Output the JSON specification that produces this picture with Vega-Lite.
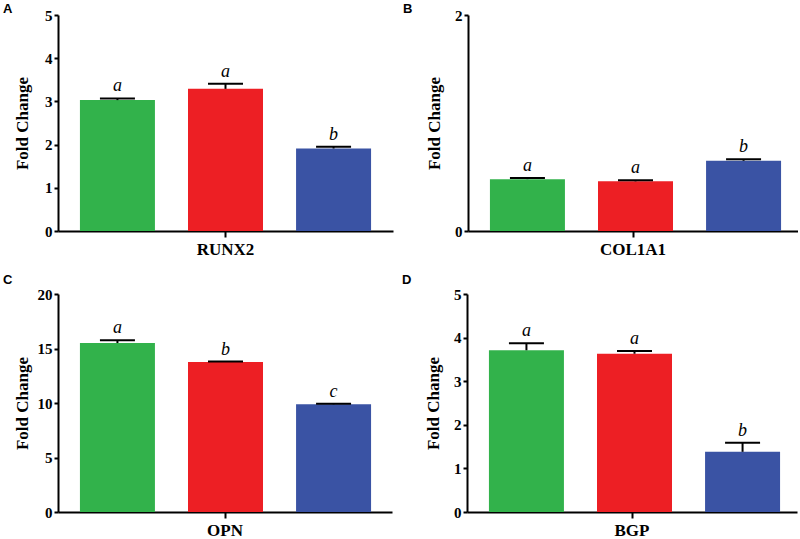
{
  "$schema": "https://vega.github.io/schema/vega-lite/v6.json",
  "padding": {"left": 3, "top": 3, "right": 0, "bottom": 0},
  "background": "white",
  "data": {"values": [
    {"gene": "RUNX2", "group": "G1", "mean": 3.03, "upper": 3.07, "letter": "a"},
    {"gene": "RUNX2", "group": "G2", "mean": 3.29, "upper": 3.41, "letter": "a"},
    {"gene": "RUNX2", "group": "G3", "mean": 1.91, "upper": 1.95, "letter": "b"},
    {"gene": "COL1A1", "group": "G1", "mean": 0.48, "upper": 0.49, "letter": "a"},
    {"gene": "COL1A1", "group": "G2", "mean": 0.46, "upper": 0.47, "letter": "a"},
    {"gene": "COL1A1", "group": "G3", "mean": 0.65, "upper": 0.665, "letter": "b"},
    {"gene": "OPN", "group": "G1", "mean": 15.5, "upper": 15.75, "letter": "a"},
    {"gene": "OPN", "group": "G2", "mean": 13.76, "upper": 13.8, "letter": "b"},
    {"gene": "OPN", "group": "G3", "mean": 9.88, "upper": 9.94, "letter": "c"},
    {"gene": "BGP", "group": "G1", "mean": 3.71, "upper": 3.87, "letter": "a"},
    {"gene": "BGP", "group": "G2", "mean": 3.63, "upper": 3.69, "letter": "a"},
    {"gene": "BGP", "group": "G3", "mean": 1.38, "upper": 1.59, "letter": "b"}
  ]},
  "config": {
    "view": {"stroke": null},
    "axis": {
      "domainColor": "black", "domainWidth": 2, "tickColor": "black", "tickWidth": 2,
      "labelFont": "Liberation Serif", "labelFontWeight": "bold", "labelColor": "black",
      "titleFont": "Liberation Serif", "titleFontWeight": "bold", "titleColor": "black",
      "grid": false
    },
    "tick": {"opacity": 1},
    "bar": {"opacity": 1},
    "title": {"font": "Liberation Sans", "fontWeight": "bold", "fontSize": 13, "color": "black", "anchor": "start", "frame": "group"}
  },
  "spacing": 17,
  "vconcat": [
    {
      "spacing": 10,
      "hconcat": [
        {
          "title": {"text": "A", "dx": -55, "offset": -8},
          "width": 335, "height": 216,
          "transform": [{"filter": "datum.gene === 'RUNX2'"}],
          "encoding": {
            "x": {"field": "gene", "type": "nominal", "title": null, "scale": {"paddingInner": 0, "paddingOuter": 0},
                  "axis": {"labelAngle": 0, "labelFontSize": 17, "tickSize": 6, "labelPadding": 4}},
            "xOffset": {"field": "group", "type": "nominal", "scale": {"paddingInner": 0.306, "paddingOuter": 0.203}}
          },
          "layer": [
            {"mark": {"type": "bar"},
             "encoding": {
               "y": {"field": "mean", "type": "quantitative", "title": "Fold Change", "scale": {"domain": [0, 5]},
                     "axis": {"values": [0, 1, 2, 3, 4, 5], "format": "d", "labelFontSize": 15, "titleFontSize": 17, "tickSize": 4, "labelPadding": 2, "titleX": -27, "titleY": 108}},
               "color": {"field": "group", "type": "nominal", "legend": null, "scale": {"domain": ["G1", "G2", "G3"], "range": ["#32b24b", "#ed1f24", "#3a53a4"]}}
             }},
            {"mark": {"type": "rule", "strokeWidth": 2, "color": "black"},
             "encoding": {"y": {"field": "mean", "type": "quantitative"}, "y2": {"field": "upper"}}},
            {"mark": {"type": "tick", "orient": "horizontal", "size": 35, "thickness": 2, "color": "black", "opacity": 1},
             "encoding": {"y": {"field": "upper", "type": "quantitative"}}},
            {"mark": {"type": "text", "font": "Liberation Serif", "fontStyle": "italic", "fontSize": 18, "baseline": "alphabetic", "dy": -7},
             "encoding": {"y": {"field": "upper", "type": "quantitative"}, "text": {"field": "letter"}}}
          ]
        },
        {
          "title": {"text": "B", "dx": -65, "offset": -8},
          "width": 330, "height": 216,
          "transform": [{"filter": "datum.gene === 'COL1A1'"}],
          "encoding": {
            "x": {"field": "gene", "type": "nominal", "title": null, "scale": {"paddingInner": 0, "paddingOuter": 0},
                  "axis": {"labelAngle": 0, "labelFontSize": 17, "tickSize": 6, "labelPadding": 4}},
            "xOffset": {"field": "group", "type": "nominal", "scale": {"paddingInner": 0.306, "paddingOuter": 0.203}}
          },
          "layer": [
            {"mark": {"type": "bar"},
             "encoding": {
               "y": {"field": "mean", "type": "quantitative", "title": "Fold Change", "scale": {"domain": [0, 2]},
                     "axis": {"values": [0, 1, 2], "format": "d", "labelFontSize": 15, "titleFontSize": 17, "tickSize": 4, "labelPadding": 2, "titleX": -25, "titleY": 108}},
               "color": {"field": "group", "type": "nominal", "legend": null, "scale": {"domain": ["G1", "G2", "G3"], "range": ["#32b24b", "#ed1f24", "#3a53a4"]}}
             }},
            {"mark": {"type": "rule", "strokeWidth": 2, "color": "black"},
             "encoding": {"y": {"field": "mean", "type": "quantitative"}, "y2": {"field": "upper"}}},
            {"mark": {"type": "tick", "orient": "horizontal", "size": 35, "thickness": 2, "color": "black", "opacity": 1},
             "encoding": {"y": {"field": "upper", "type": "quantitative"}}},
            {"mark": {"type": "text", "font": "Liberation Serif", "fontStyle": "italic", "fontSize": 18, "baseline": "alphabetic", "dy": -7},
             "encoding": {"y": {"field": "upper", "type": "quantitative"}, "text": {"field": "letter"}}}
          ]
        }
      ]
    },
    {
      "spacing": 10,
      "hconcat": [
        {
          "title": {"text": "C", "dx": -55, "offset": 0},
          "width": 334, "height": 218,
          "transform": [{"filter": "datum.gene === 'OPN'"}],
          "encoding": {
            "x": {"field": "gene", "type": "nominal", "title": null, "scale": {"paddingInner": 0, "paddingOuter": 0},
                  "axis": {"labelAngle": 0, "labelFontSize": 17, "tickSize": 6, "labelPadding": 4}},
            "xOffset": {"field": "group", "type": "nominal", "scale": {"paddingInner": 0.306, "paddingOuter": 0.203}}
          },
          "layer": [
            {"mark": {"type": "bar"},
             "encoding": {
               "y": {"field": "mean", "type": "quantitative", "title": "Fold Change", "scale": {"domain": [0, 20]},
                     "axis": {"values": [0, 5, 10, 15, 20], "format": "d", "labelFontSize": 15, "titleFontSize": 17, "tickSize": 4, "labelPadding": 2, "titleX": -27, "titleY": 109}},
               "color": {"field": "group", "type": "nominal", "legend": null, "scale": {"domain": ["G1", "G2", "G3"], "range": ["#32b24b", "#ed1f24", "#3a53a4"]}}
             }},
            {"mark": {"type": "rule", "strokeWidth": 2, "color": "black"},
             "encoding": {"y": {"field": "mean", "type": "quantitative"}, "y2": {"field": "upper"}}},
            {"mark": {"type": "tick", "orient": "horizontal", "size": 35, "thickness": 2, "color": "black", "opacity": 1},
             "encoding": {"y": {"field": "upper", "type": "quantitative"}}},
            {"mark": {"type": "text", "font": "Liberation Serif", "fontStyle": "italic", "fontSize": 18, "baseline": "alphabetic", "dy": -7},
             "encoding": {"y": {"field": "upper", "type": "quantitative"}, "text": {"field": "letter"}}}
          ]
        },
        {
          "title": {"text": "D", "dx": -65, "offset": 0},
          "width": 330, "height": 218,
          "transform": [{"filter": "datum.gene === 'BGP'"}],
          "encoding": {
            "x": {"field": "gene", "type": "nominal", "title": null, "scale": {"paddingInner": 0, "paddingOuter": 0},
                  "axis": {"labelAngle": 0, "labelFontSize": 17, "tickSize": 6, "labelPadding": 4}},
            "xOffset": {"field": "group", "type": "nominal", "scale": {"paddingInner": 0.306, "paddingOuter": 0.203}}
          },
          "layer": [
            {"mark": {"type": "bar"},
             "encoding": {
               "y": {"field": "mean", "type": "quantitative", "title": "Fold Change", "scale": {"domain": [0, 5]},
                     "axis": {"values": [0, 1, 2, 3, 4, 5], "format": "d", "labelFontSize": 15, "titleFontSize": 17, "tickSize": 4, "labelPadding": 2, "titleX": -25, "titleY": 109}},
               "color": {"field": "group", "type": "nominal", "legend": null, "scale": {"domain": ["G1", "G2", "G3"], "range": ["#32b24b", "#ed1f24", "#3a53a4"]}}
             }},
            {"mark": {"type": "rule", "strokeWidth": 2, "color": "black"},
             "encoding": {"y": {"field": "mean", "type": "quantitative"}, "y2": {"field": "upper"}}},
            {"mark": {"type": "tick", "orient": "horizontal", "size": 35, "thickness": 2, "color": "black", "opacity": 1},
             "encoding": {"y": {"field": "upper", "type": "quantitative"}}},
            {"mark": {"type": "text", "font": "Liberation Serif", "fontStyle": "italic", "fontSize": 18, "baseline": "alphabetic", "dy": -7},
             "encoding": {"y": {"field": "upper", "type": "quantitative"}, "text": {"field": "letter"}}}
          ]
        }
      ]
    }
  ]
}
